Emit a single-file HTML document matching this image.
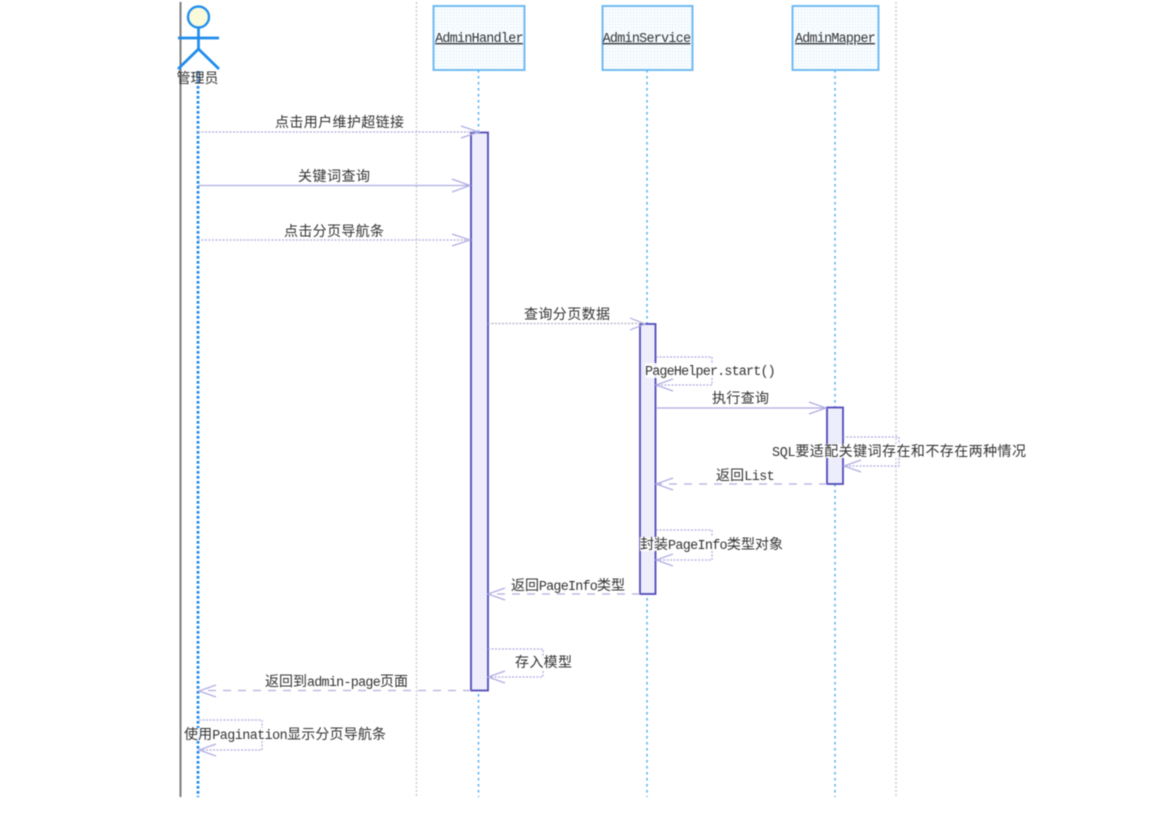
<!DOCTYPE html>
<html>
<head>
<meta charset="utf-8">
<style>
html,body{margin:0;padding:0;background:#fff;width:1166px;height:813px;overflow:hidden}
svg{display:block;filter:blur(.5px)}
text{font-family:"Liberation Sans","Noto Sans CJK SC",sans-serif;font-size:14px;fill:#333}
.m{font-family:"Liberation Mono","Noto Sans CJK SC",monospace;font-size:13.4px;letter-spacing:-.72px}
.c{font-family:"Noto Sans CJK SC",sans-serif;font-size:14px}
.msg{fill:none;stroke:#b0acE2;stroke-width:1.25}
.sd{stroke-dasharray:2 1.5}
.dash{stroke-dasharray:8 7;stroke:#b4b0dc}
.head{fill:none;stroke:#b0ace2;stroke-width:1.2}
.life{stroke:#4fb0f2;stroke-width:1.5;stroke-dasharray:2.5 3.5;fill:none}
.sep{stroke:#c8c8d8;stroke-width:1.4;stroke-dasharray:2 2;fill:none}
.obj{fill:url(#bd);stroke:#6bb8f3;stroke-width:1.9}
.act{fill:url(#ad);stroke:#514ab8;stroke-width:1.8}
.bg{fill:#fff}
</style>
</head>
<body>
<svg width="1166" height="813" viewBox="0 0 1166 813" xmlns="http://www.w3.org/2000/svg">
<defs>
<pattern id="bd" width="3" height="3" patternUnits="userSpaceOnUse">
<rect width="3" height="3" fill="#fafdff"/><rect width="1.2" height="1.2" fill="#d8ecf9"/>
</pattern>
<pattern id="ad" width="2" height="2" patternUnits="userSpaceOnUse">
<rect width="2" height="2" fill="#f3f3fd"/><rect width="1" height="1" fill="#dcdbf6"/>
</pattern>
</defs>
<rect width="1166" height="813" fill="#fff"/>

<!-- frame and separators -->
<line x1="180.5" y1="2" x2="180.5" y2="797" stroke="#777" stroke-width="1.9"/>
<line class="sep" x1="416.5" y1="2" x2="416.5" y2="797"/>
<line class="sep" x1="896" y1="2" x2="896" y2="797"/>

<!-- lifelines -->
<line x1="198" y1="71" x2="198" y2="797" stroke="#1f8aec" stroke-width="2.8" stroke-dasharray="2.6 2.4"/>
<line class="life" x1="478.5" y1="70" x2="478.5" y2="797"/>
<line class="life" x1="647" y1="70" x2="647" y2="797"/>
<line class="life" x1="835" y1="70" x2="835" y2="797"/>

<!-- actor -->
<circle cx="198.5" cy="17" r="10.5" fill="#fbfbdc" stroke="#2490ec" stroke-width="2.4"/>
<g stroke="#1f8cec" stroke-width="2.7" fill="none">
<line x1="198.5" y1="27" x2="198.5" y2="49"/>
<line x1="178" y1="38" x2="219" y2="38"/>
<line x1="198.5" y1="49" x2="178" y2="69"/>
<line x1="198.5" y1="49" x2="219" y2="69"/>
</g>
<text class="c" x="197.5" y="83" text-anchor="middle">管理员</text>

<!-- object boxes -->
<rect class="obj" x="433.5" y="6" width="91" height="64"/>
<text class="m" x="479" y="42" text-anchor="middle" text-decoration="underline">AdminHandler</text>
<rect class="obj" x="602.5" y="6" width="90" height="64"/>
<text class="m" x="646.5" y="42" text-anchor="middle" text-decoration="underline">AdminService</text>
<rect class="obj" x="792.5" y="6" width="86" height="64"/>
<text class="m" x="835" y="42" text-anchor="middle" text-decoration="underline" textLength="80" lengthAdjust="spacingAndGlyphs">AdminMapper</text>

<!-- activations -->
<rect class="act" x="471" y="132.5" width="17" height="558"/>
<rect class="act" x="640" y="324" width="15.5" height="270"/>
<rect class="act" x="827" y="407.5" width="16" height="76.5"/>

<!-- calls -->
<line class="msg sd" x1="198" y1="132" x2="478" y2="132"/>
<polyline class="head" points="461,126 479,132 461,138"/>
<line class="msg" x1="198" y1="185.5" x2="470" y2="185.5"/>
<polyline class="head" points="452,179 470,185.5 452,192"/>
<line class="msg sd" x1="198" y1="240" x2="470" y2="240"/>
<polyline class="head" points="452,234 470,240 452,246"/>
<line class="msg sd" x1="488" y1="323.5" x2="644" y2="323.5" style="stroke:#b0b0c4"/>
<polyline class="head" points="630,318 645,324 630,330"/>
<line class="msg" x1="656" y1="408" x2="825" y2="408"/>
<polyline class="head" points="809,402 826,408 809,414"/>

<!-- returns -->
<line class="msg dash" x1="827" y1="484" x2="658" y2="484"/>
<polyline class="head" points="673,478 656,484 673,490"/>
<line class="msg dash" x1="640" y1="594" x2="490" y2="594"/>
<polyline class="head" points="505,588 488,594 505,600"/>
<line class="msg dash" x1="471" y1="690.5" x2="201" y2="690.5"/>
<polyline class="head" points="216,685 199,691 216,697"/>

<!-- self calls -->
<polyline class="msg sd" points="656,357 712,357 712,385 656,385"/>
<polyline class="head" points="673,379 656,385 673,391"/>
<polyline class="msg sd" points="843,437 899,437 899,466 844,466"/>
<polyline class="head" points="861,460 844,466 861,472"/>
<polyline class="msg sd" points="656,530 712,530 712,560 656,560"/>
<polyline class="head" points="673,554 656,560 673,566"/>
<polyline class="msg sd" points="488,649 543,649 543,677 488,677"/>
<polyline class="head" points="505,671 488,677 505,683"/>
<polyline class="msg sd" points="199,720 262,720 262,750 199,750"/>
<polyline class="head" points="216,744 199,750 216,756"/>

<!-- label backgrounds -->
<rect class="bg" x="645" y="363" width="130" height="15" opacity=".9"/>
<rect class="bg" x="772" y="444" width="254" height="14" opacity=".9"/>
<rect class="bg" x="640" y="537" width="143" height="14" opacity=".9"/>
<rect class="bg" x="184" y="728" width="202" height="13" opacity=".9"/>
<rect class="bg" x="510" y="656" width="62" height="14" opacity=".9"/>

<!-- labels -->
<text class="c" x="275" y="127" textLength="129">点击用户维护超链接</text>
<text class="c" x="298" y="181" textLength="72">关键词查询</text>
<text class="c" x="284" y="236" textLength="100">点击分页导航条</text>
<text class="c" x="524" y="319" textLength="86">查询分页数据</text>
<text class="m" x="645" y="375" textLength="130">PageHelper.start()</text>
<text class="c" x="712" y="403" textLength="57">执行查询</text>
<text x="772" y="456" textLength="254"><tspan class="m">SQL</tspan><tspan class="c">要适配关键词存在和不存在两种情况</tspan></text>
<text x="716" y="480" textLength="58"><tspan class="c">返回</tspan><tspan class="m">List</tspan></text>
<text x="640" y="549" textLength="143"><tspan class="c">封装</tspan><tspan class="m">PageInfo</tspan><tspan class="c">类型对象</tspan></text>
<text x="511" y="590" textLength="114"><tspan class="c">返回</tspan><tspan class="m">PageInfo</tspan><tspan class="c">类型</tspan></text>
<text class="c" x="515" y="667" textLength="57">存入模型</text>
<text x="265" y="686" textLength="143"><tspan class="c">返回到</tspan><tspan class="m">admin-page</tspan><tspan class="c">页面</tspan></text>
<text x="184" y="739" textLength="202"><tspan class="c">使用</tspan><tspan class="m">Pagination</tspan><tspan class="c">显示分页导航条</tspan></text>
</svg>
</body>
</html>
